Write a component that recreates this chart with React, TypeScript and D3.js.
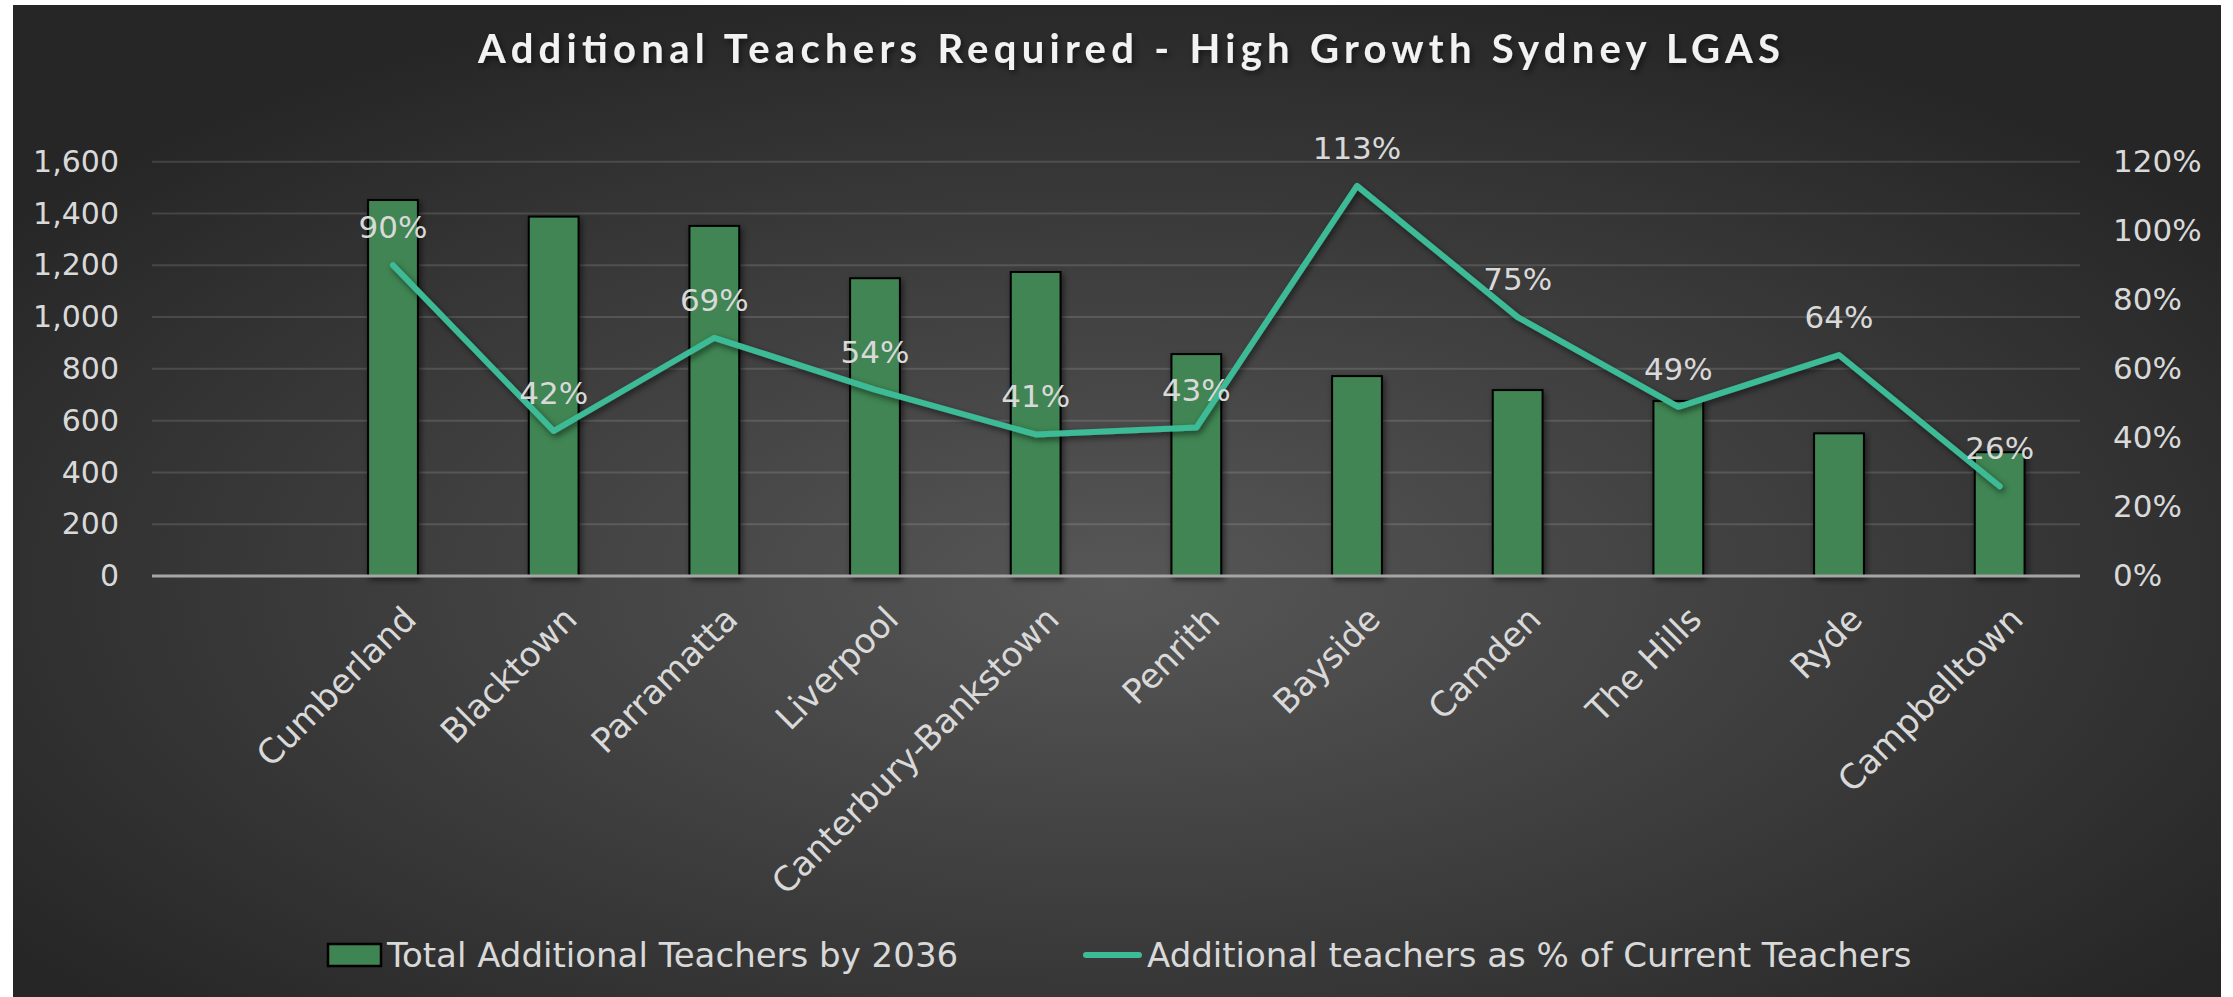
import React, { useEffect, useRef } from 'react'
import { select, scaleLinear, scaleBand, line, axisLeft, axisRight, format } from 'd3'

// first slot is an empty category in the original sheet
const categories = ['', 'Cumberland', 'Blacktown', 'Parramatta', 'Liverpool', 'Canterbury-Bankstown', 'Penrith', 'Bayside', 'Camden', 'The Hills', 'Ryde', 'Campbelltown']
const teachers = [null, 1452, 1388, 1352, 1150, 1174, 857, 772, 718, 676, 551, 478]
const pctOfCurrent = [null, 90, 42, 69, 54, 41, 43, 113, 75, 49, 64, 26]
const leftTicks = [0, 200, 400, 600, 800, 1000, 1200, 1400, 1600]
const rightTicks = [0, 20, 40, 60, 80, 100, 120]

const title = 'Additional Teachers Required - High Growth Sydney LGAS'
const barLegend = 'Total Additional Teachers by 2036'
const lineLegend = 'Additional teachers as % of Current Teachers'

const FONT = '"DejaVu Sans", Lato, sans-serif'
const TITLE_FONT = 'Lato, "Open Sans", sans-serif'
const TEXT = '#d9d9d9'
const BAR = '#3f8553'
const LINE = '#3dba96'

function App() {
  const ref = useRef<SVGSVGElement>(null)

  useEffect(() => {
    document.body.style.margin = '0'
    const width = 2233
    const height = 997
    const svg = select(ref.current)
    svg.selectAll('*').remove()

    const defs = svg.append('defs')
    const grad = defs.append('radialGradient').attr('id', 'bg')
      .attr('cx', '50%').attr('cy', '58%').attr('r', '62%')
    grad.append('stop').attr('offset', '0%').attr('stop-color', '#575757')
    grad.append('stop').attr('offset', '100%').attr('stop-color', '#262626')

    const shadow = defs.append('filter').attr('id', 'shadow')
      .attr('x', '-20%').attr('y', '-20%').attr('width', '140%').attr('height', '140%')
    shadow.append('feDropShadow').attr('dx', 2).attr('dy', 3).attr('stdDeviation', 3)
      .attr('flood-color', '#000').attr('flood-opacity', 0.55)

    svg.append('rect').attr('width', width).attr('height', height).attr('fill', '#fff')
    svg.append('rect').attr('x', 13).attr('y', 5).attr('width', 2208).attr('height', 1000)
      .attr('fill', 'url(#bg)')

    const margin = { left: 152, right: 2080, top: 161.7, bottom: 576 }

    const x = scaleBand<string>().domain(categories).range([margin.left, margin.right])
    const xBar = scaleBand<string>().domain(categories).range([margin.left, margin.right])
      .paddingInner(0.69).paddingOuter(0.345)
    const yLeft = scaleLinear().domain([0, 1600]).range([margin.bottom, margin.top])
    const yRight = scaleLinear().domain([0, 120]).range([margin.bottom, margin.top])
    const cx = (c: string) => (x(c) as number) + x.bandwidth() / 2

    // title
    svg.append('text')
      .attr('x', 1129).attr('y', 63)
      .attr('text-anchor', 'middle')
      .attr('textLength', 1302).attr('lengthAdjust', 'spacing')
      .style('font-family', TITLE_FONT).style('font-weight', 700).style('font-size', '40px')
      .attr('fill', '#f2f2f2').attr('filter', 'url(#shadow)')
      .text(title)

    // gridlines
    svg.append('g').selectAll('line').data(leftTicks.slice(1)).enter().append('line')
      .attr('x1', margin.left).attr('x2', margin.right)
      .attr('y1', d => yLeft(d)).attr('y2', d => yLeft(d))
      .attr('stroke', 'rgba(255,255,255,0.13)').attr('stroke-width', 2)

    // left axis
    const gl = svg.append('g').attr('transform', `translate(${margin.left - 33},0)`)
      .call(axisLeft(yLeft).tickValues(leftTicks).tickFormat(format(',')).tickSize(0).tickPadding(0))
    gl.select('.domain').remove()
    gl.selectAll('text').attr('fill', TEXT).style('font-family', FONT).style('font-size', '30px')

    // right axis
    const gr = svg.append('g').attr('transform', `translate(${margin.right + 33},0)`)
      .call(axisRight(yRight).tickValues(rightTicks).tickFormat(d => `${d}%`).tickSize(0).tickPadding(0))
    gr.select('.domain').remove()
    gr.selectAll('text').attr('fill', TEXT).style('font-family', FONT).style('font-size', '31px')

    // bars
    const rows = categories.map((c, i) => ({ c, v: teachers[i], p: pctOfCurrent[i] }))
    svg.append('g').attr('filter', 'url(#shadow)')
      .selectAll('rect').data(rows.filter(d => d.v !== null)).enter().append('rect')
      .attr('x', d => xBar(d.c) as number)
      .attr('y', d => yLeft(d.v as number))
      .attr('width', xBar.bandwidth())
      .attr('height', d => margin.bottom - yLeft(d.v as number))
      .attr('fill', BAR).attr('stroke', '#000').attr('stroke-width', 2)

    // zero axis line
    svg.append('line')
      .attr('x1', margin.left).attr('x2', margin.right)
      .attr('y1', margin.bottom).attr('y2', margin.bottom)
      .attr('stroke', '#a6a6a6').attr('stroke-width', 3)

    // category labels
    svg.append('g').selectAll('text').data(categories.filter(c => c !== '')).enter().append('text')
      .attr('transform', c => `translate(${cx(c) + 8},604) rotate(-45)`)
      .attr('text-anchor', 'end').attr('dy', '0.72em')
      .attr('fill', TEXT).style('font-family', FONT).style('font-size', '34px')
      .text(c => c)

    // line series
    const pts = rows.filter(d => d.p !== null)
    const path = line<{ c: string; p: number | null }>()
      .x(d => cx(d.c))
      .y(d => yRight(d.p as number))
    svg.append('path').datum(pts)
      .attr('d', path)
      .attr('fill', 'none').attr('stroke', LINE).attr('stroke-width', 6)
      .attr('stroke-linejoin', 'round').attr('stroke-linecap', 'round')
      .attr('filter', 'url(#shadow)')

    // data labels
    svg.append('g').selectAll('text').data(pts).enter().append('text')
      .attr('x', d => cx(d.c)).attr('y', d => yRight(d.p as number) - 27)
      .attr('text-anchor', 'middle')
      .attr('fill', TEXT).style('font-family', FONT).style('font-size', '31px')
      .text(d => `${d.p}%`)

    // legend
    const lg = svg.append('g')
    lg.append('rect').attr('x', 328).attr('y', 944).attr('width', 53).attr('height', 22)
      .attr('fill', BAR).attr('stroke', '#000').attr('stroke-width', 2.5)
    lg.append('text').attr('x', 387).attr('y', 967)
      .attr('fill', TEXT).style('font-family', FONT).style('font-size', '34px')
      .text(barLegend)
    lg.append('line').attr('x1', 1086).attr('x2', 1139).attr('y1', 955).attr('y2', 955)
      .attr('stroke', LINE).attr('stroke-width', 6).attr('stroke-linecap', 'round')
    lg.append('text').attr('x', 1147).attr('y', 967)
      .attr('fill', TEXT).style('font-family', FONT).style('font-size', '34px')
      .text(lineLegend)
  }, [])

  return (
    <div>
      <svg ref={ref} width={2233} height={997} style={{ display: 'block' }} />
    </div>
  )
}

export default App
